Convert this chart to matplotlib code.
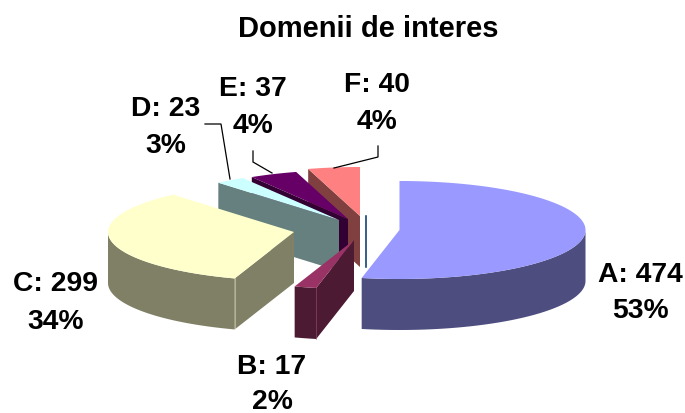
import numpy as np
import matplotlib
matplotlib.use("Agg")
import matplotlib.pyplot as plt
from matplotlib.patches import Polygon

plt.rcParams['font.family'] = ['Liberation Sans', 'DejaVu Sans']

# data
categories = ['A', 'B', 'C', 'D', 'E', 'F']
values = [474, 17, 299, 23, 37, 40]
title = 'Domenii de interes'

# styles and layout (figure pixels)
top_colors = ['#9999FF', '#993366', '#FFFFCC', '#CCFFFF', '#660066', '#FF8080']
side_colors = ['#4D4D80', '#4C1A33', '#808066', '#668080', '#330033', '#804040']
centers_x = [399.5, 354, 294, 339, 348, 360]
centers_y = [231, 241, 233, 221, 220, 217]
draw_order = [5, 4, 3, 2, 0, 1]
RX, RY, DEPTH = 186, 49, 51
label_pos = {
    'A': ((640, 275), (640, 311)),
    'B': ((272, 367), (272, 402)),
    'C': ((56, 284), (56, 322)),
    'D': ((166, 109), (166, 146)),
    'E': ((253, 89), (253, 126)),
    'F': ((377, 85), (377, 122)),
}
leaders = [
    ([205, 221, 230], [125, 125, 180]),
    ([253, 253, 272], [152, 163, 174]),
    ([378, 378, 334], [147, 158, 169]),
]

fig = plt.figure(figsize=(6.85, 4.14), dpi=100)
ax = fig.add_axes([0, 0, 1, 1])
ax.set_xlim(0, 685)
ax.set_ylim(414, 0)
ax.axis('off')


def pt(cx, cy, deg):
    t = np.radians(deg)
    return cx + RX * np.sin(t), cy - RY * np.cos(t)


total = sum(values)
edges = np.concatenate([[0], np.cumsum(values)]) * 360.0 / total

# thin stray line beside the F slice, as in the source chart
ax.plot([366, 366], [centers_y[5], centers_y[5] + DEPTH], color='#003366', lw=1.1, zorder=1)

z = 2
for i in draw_order:
    a0, a1 = edges[i], edges[i + 1]
    cx, cy = centers_x[i], centers_y[i]
    sx, sy = pt(cx, cy, a0)
    # radial face at the start of the slice, when it faces the viewer
    if np.cos(np.radians(a0 - 90)) < 0:
        ax.add_patch(Polygon([(cx, cy), (sx, sy), (sx, sy + DEPTH), (cx, cy + DEPTH)],
                             fc=side_colors[i], ec='none', zorder=z))
    # radial face at the end of the slice
    if np.cos(np.radians(a1 + 90)) < 0:
        ex, ey = pt(cx, cy, a1)
        ax.add_patch(Polygon([(cx, cy), (ex, ey), (ex, ey + DEPTH), (cx, cy + DEPTH)],
                             fc=side_colors[i], ec='none', zorder=z))
    # outer curved face
    lo, hi = max(a0, 90), min(a1, 270)
    if hi > lo:
        aa = np.linspace(lo, hi, 80)
        xs, ys = pt(cx, cy, aa)
        ring = list(zip(xs, ys)) + list(zip(xs[::-1], ys[::-1] + DEPTH))
        ax.add_patch(Polygon(ring, fc=side_colors[i], ec='none', zorder=z))
    # top surface
    aa = np.linspace(a0, a1, 120)
    xs, ys = pt(cx, cy, aa)
    ax.add_patch(Polygon([(cx, cy)] + list(zip(xs, ys)), fc=top_colors[i], ec='none', zorder=z + 0.1))
    # light corner edge where the radial and curved faces meet
    if categories[i] in ('B', 'C'):
        ax.plot([sx, sx], [sy, sy + DEPTH], color=top_colors[i], alpha=0.4, lw=0.8, zorder=z + 0.2)
    z += 1

for xs, ys in leaders:
    ax.plot(xs, ys, color='black', lw=0.9, zorder=20, solid_joinstyle='miter')

ax.text(368, 29, title, ha='center', va='center', fontsize=21, fontweight='bold', zorder=21)
for cat, val in zip(categories, values):
    p1, p2 = label_pos[cat]
    ax.text(p1[0], p1[1], f'{cat}: {val}', ha='center', va='center', fontsize=20.3,
            fontweight='bold', zorder=21)
    ax.text(p2[0], p2[1], f'{round(100 * val / total)}%', ha='center', va='center', fontsize=20.3,
            fontweight='bold', zorder=21)

fig.savefig('out.png', dpi=100, facecolor='white')
